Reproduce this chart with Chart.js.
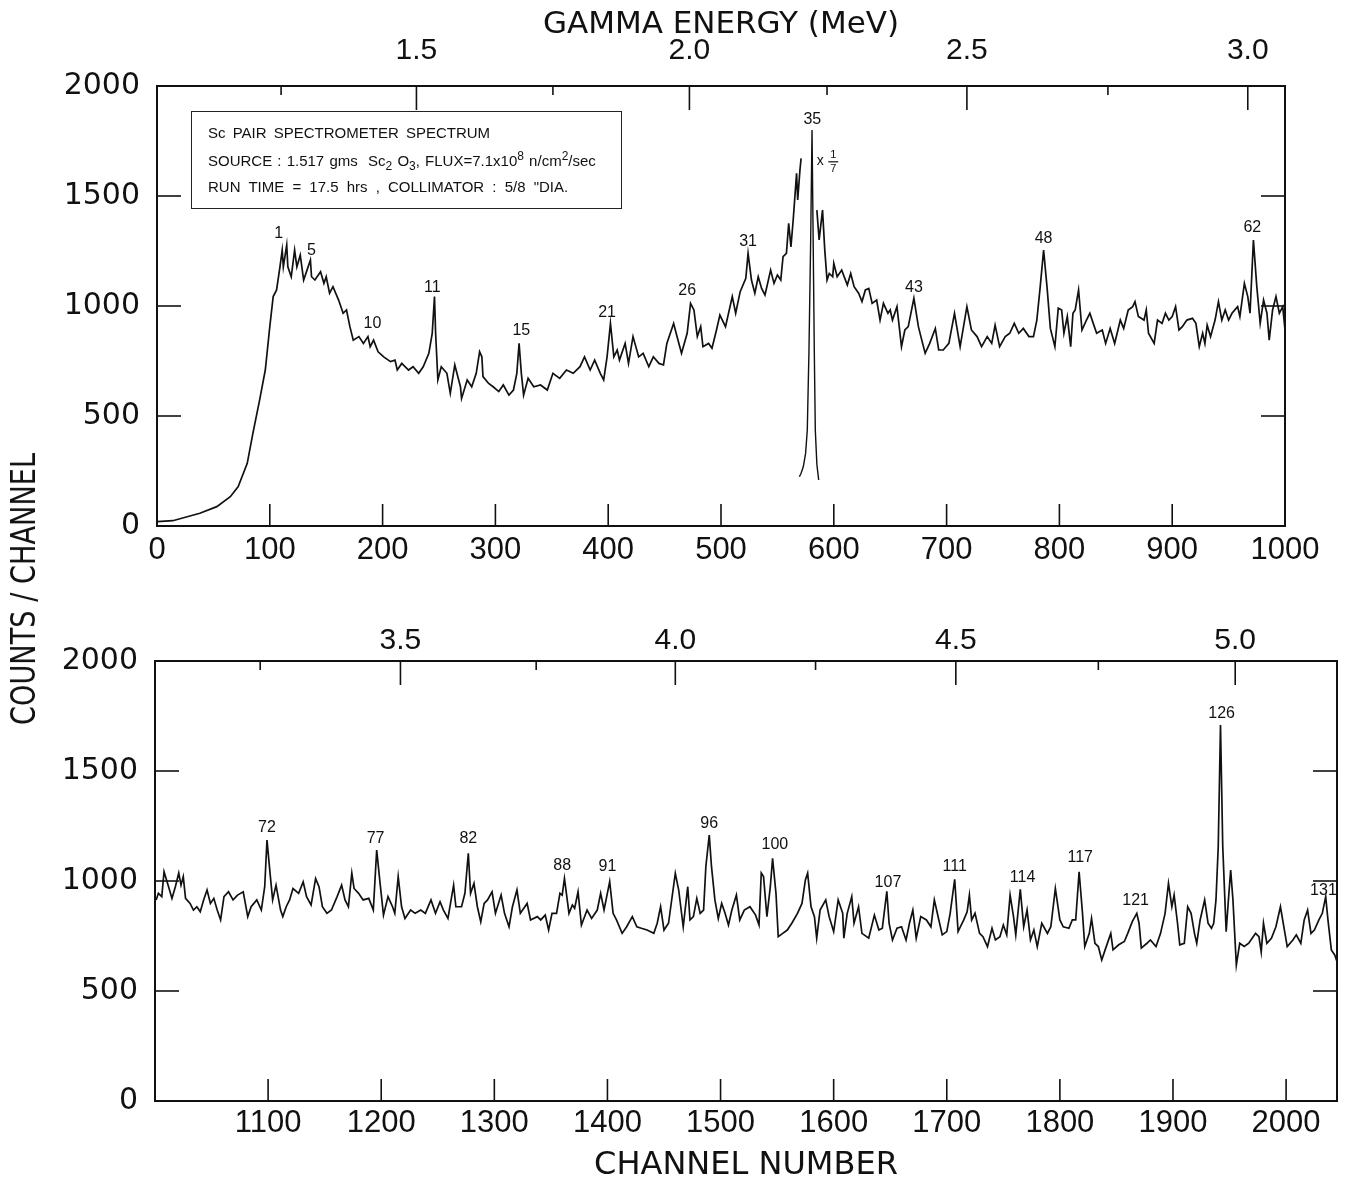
<!DOCTYPE html>
<html>
<head>
<meta charset="utf-8">
<script src="https://cdn.jsdelivr.net/npm/chart.js@4.4.1/dist/chart.umd.min.js"></script>
<style>
  body { margin: 0; background: #fff; }
  #wrap { position: relative; width: 1345px; height: 1183px; overflow: hidden; }
  #topChart { position: absolute; left: 0; top: 0; }
  #bottomChart { position: absolute; left: 0; top: 600px; }
  .ytitle { position: absolute; left: 23px; top: 589px; transform: translate(-50%, -50%) rotate(-90deg) scale(0.8, 1);
            font: 34px "DejaVu Sans"; color: #111; white-space: nowrap; }
  .info { position: absolute; left: 191px; top: 111px; width: 431px; height: 98px; box-sizing: border-box;
          border: 1.5px solid #222; font: 15px "Liberation Sans"; color: #111; }
  .info div { position: absolute; left: 16px; white-space: nowrap; line-height: 15px; word-spacing: 3px; }
  .info sub, .info sup { font-size: 12px; line-height: 0; }
</style>
</head>
<body>
<div id="wrap">
  <canvas id="topChart" width="1345" height="600"></canvas>
  <canvas id="bottomChart" width="1345" height="583"></canvas>
  <div class="ytitle">COUNTS / CHANNEL</div>
  <div class="info">
    <div style="top:13px">Sc PAIR SPECTROMETER SPECTRUM</div>
    <div style="top:41px; word-spacing: 1px">SOURCE : 1.517 gms&nbsp; Sc<sub>2</sub> O<sub>3</sub>, FLUX=7.1x10<sup>8</sup> n/cm<sup>2</sup>/sec</div>
    <div style="top:67px; word-spacing: 4px">RUN TIME = 17.5 hrs , COLLIMATOR : 5/8 "DIA.</div>
  </div>
</div>
<script>
// channel 0-1000, rising edge up to the point where the 2.22 MeV line breaks the trace
const topChannelsA = [0,14,38,53,65,72,80,85,91,96,100,103,106,109,111,112,115,116,119,122,
  124,127,130,133,136,137,140,145,148,150,153,156,161,165,168,171,174,179,183,187,
  189,192,196,201,207,211,213,217,223,227,232,236,241,244,246,247,249,252,257,260,
  264,269,270,275,279,283,286,288,289,294,298,303,307,312,316,319,321,323,325,329,
  334,340,346,351,357,363,369,375,379,384,388,393,396,399,402,405,408,410,415,418,
  422,427,431,436,440,445,449,452,458,461,465,470,473,476,479,482,484,489,492,496,
  499,504,510,513,517,522,524,527,530,533,536,539,544,547,550,553,555,558,560,562,
  564,567,568,570,571];
const topCountsA = [20,24,58,88,133,179,285,421,573,709,906,1043,1073,1178,1254,1178,1277,1178,1133,1254,
  1178,1231,1118,1163,1209,1133,1118,1156,1103,1133,1058,1088,1027,967,982,906,845,861,830,861,
  815,845,792,769,747,754,709,739,709,724,694,724,785,876,1043,876,664,724,694,603,
  732,633,580,664,633,694,792,769,679,648,633,611,641,595,618,694,830,694,595,671,
  633,641,618,694,671,709,694,724,769,709,754,694,664,769,921,769,800,754,830,739,
  861,769,785,724,769,739,732,830,921,861,785,876,1012,982,861,906,815,830,808,891,
  959,906,1043,967,1065,1126,1239,1118,1058,1133,1080,1050,1163,1103,1141,1118,1224,1239,1376,1269,
  1391,1603,1482,1618,1671];

// trace resumes after the peak
const topChannelsB = [585,587,590,592,594,596,599,600,603,607,612,615,618,622,625,628,631,634,638,641,
  644,648,650,652,656,658,660,663,666,671,675,678,681,685,690,693,697,702,707,712,
  718,722,727,731,736,740,743,747,752,756,760,764,768,773,777,780,783,786,789,792,
  796,799,802,804,807,810,812,814,817,820,824,827,830,833,838,841,845,849,854,857,
  861,865,867,870,875,877,879,884,887,891,894,897,900,903,906,909,913,918,921,924,
  927,929,931,934,938,941,944,947,950,953,958,960,964,967,969,972,975,978,981,984,
  986,989,992,995,998,1000];
const topCountsB = [1436,1300,1436,1254,1118,1148,1133,1194,1133,1163,1095,1148,1088,1058,1020,1073,1080,1012,1027,936,
  1012,967,982,936,997,906,815,891,906,1035,906,845,785,830,898,800,800,830,967,815,
  997,891,861,815,861,830,913,815,861,876,921,876,898,861,861,936,1088,1254,1088,898,
  815,990,982,876,952,815,967,982,1073,891,936,967,921,876,891,830,898,830,936,898,
  982,997,1020,952,936,982,876,830,936,921,967,936,952,997,891,906,936,944,921,815,
  876,830,913,861,936,1020,936,982,936,967,997,952,1103,1043,967,1300,1088,921,1027,967,
  845,982,1043,967,997,891];

// peak 35 drawn at one seventh
const peak35Channels = [569.5,571,573,575,576.5,578,579.5,580.7,581.7,582.7,583.6,585,586.6];
const peak35Counts = [224,240,270,330,436,800,1300,1800,1300,800,436,280,209];

// channel 1000-2045
const bottomChannels = [1001,1003,1006,1008,1012,1015,1018,1021,1023,1025,
  1027,1031,1034,1037,1040,1043,1046,1049,1052,1055,1058,1061,1065,1069,1073,1078,1082,1085,1090,1094,
  1097,1099,1102,1104,1107,1111,1113,1116,1119,1122,1127,1131,1134,1138,1142,1145,1148,1152,1156,1161,
  1165,1168,1171,1174,1176,1180,1184,1189,1193,1196,1199,1202,1206,1210,1212,1215,1218,1221,1226,1230,
  1235,1239,1244,1248,1252,1255,1259,1264,1266,1271,1274,1277,1279,1282,1285,1288,1291,1294,1298,1301,
  1306,1309,1313,1316,1320,1323,1329,1332,1338,1341,1345,1348,1351,1355,1358,1360,1362,1366,1369,1371,
  1374,1377,1382,1386,1391,1394,1397,1402,1405,1408,1413,1417,1422,1426,1430,1435,1441,1444,1447,1450,
  1454,1460,1463,1467,1470,1471,1473,1476,1479,1482,1485,1487,1490,1492,1495,1498,1501,1504,1507,1510,
  1514,1517,1521,1526,1531,1534,1536,1538,1541,1544,1546,1549,1551,1555,1559,1563,1568,1572,1575,1577,
  1580,1583,1585,1588,1593,1596,1600,1604,1608,1609,1612,1616,1618,1622,1625,1631,1636,1640,1643,1647,
  1649,1652,1656,1660,1664,1667,1670,1673,1677,1682,1686,1689,1693,1696,1700,1703,1707,1710,1715,1718,
  1720,1722,1725,1729,1732,1736,1740,1743,1747,1750,1753,1756,1759,1761,1765,1768,1771,1774,1777,1780,
  1784,1789,1792,1796,1800,1803,1808,1811,1814,1817,1820,1822,1826,1828,1831,1834,1837,1840,1845,1847,
  1852,1857,1860,1864,1868,1870,1872,1877,1880,1885,1889,1893,1896,1899,1901,1904,1906,1910,1913,1916,
  1919,1921,1924,1928,1931,1934,1936,1938,1940,1942,1944,1947,1949,1951,1953,1956,1959,1963,1967,1970,
  1973,1976,1978,1980,1983,1987,1991,1995,1999,2001,2006,2009,2013,2016,2019,2022,2025,2029,2032,2035,
  2037,2040,2043,2045];
const bottomCounts = [914,944,929,1042,974,921,974,1036,981,1020,
  921,898,868,883,860,914,959,898,921,868,823,929,951,914,936,951,838,883,914,868,
  974,1186,1020,914,981,868,838,883,914,966,944,996,929,891,1011,974,883,853,868,929,
  981,914,883,1036,966,944,914,921,868,1141,989,845,929,883,853,1020,883,830,868,853,
  868,853,914,853,906,868,830,981,883,883,944,1126,944,989,883,815,898,914,951,853,
  936,853,792,883,959,853,898,823,838,823,845,777,853,853,944,936,1012,853,891,876,
  951,800,868,830,868,944,868,997,853,823,762,792,838,792,785,777,762,808,883,777,
  808,1035,959,792,929,974,823,838,921,853,868,1065,1209,1065,914,830,898,853,800,868,
  936,823,868,883,845,800,1036,1020,838,974,1103,944,747,762,777,808,853,898,1005,1036,
  883,838,740,868,914,838,770,914,853,740,853,929,808,883,762,740,845,777,785,953,
  808,732,785,792,732,808,868,740,838,823,792,914,823,755,770,853,1008,770,823,860,
  936,823,853,762,747,702,785,732,747,800,755,936,838,755,962,792,868,732,777,702,
  808,762,792,966,823,792,785,823,823,1042,853,702,762,830,717,702,641,687,762,687,
  710,725,762,815,853,808,695,717,732,702,762,853,989,883,936,808,710,717,883,853,
  762,717,823,914,808,785,808,914,1156,1709,1156,770,914,1050,914,618,717,702,717,740,
  762,747,677,808,717,740,792,883,762,702,732,755,717,823,868,762,777,823,853,929,
  823,687,664,634];

// axes
const topChannelTicks = [0,100,200,300,400,500,600,700,800,900,1000];
const bottomChannelTicks = [1100,1200,1300,1400,1500,1600,1700,1800,1900,2000];
const countTicks = [0,500,1000,1500,2000];
const topEnergyValues = [1.25,1.5,1.75,2.0,2.25,2.5,2.75,3.0];
const topEnergyChannels = [110,230,351,472,594,718,843,967];
const bottomEnergyValues = [3.25,3.5,3.75,4.0,4.25,4.5,4.75,5.0];
const bottomEnergyChannels = [1093,1217,1337,1460,1584,1708,1834,1955];

// peak numbers
const topPeakNames = ['1','5','10','11','15','21','26','31','35','43','48','62'];
const topPeakChannels = [108,137,191,244,323,399,470,524,581,671,786,971];
const topPeakCounts = [1330,1254,918,1085,886,970,1070,1292,1848,1085,1308,1357];
const bottomPeakNames = ['72','77','82','88','91','96','100','107','111','114','117','121','126','131'];
const bottomPeakChannels = [1099,1195,1277,1360,1400,1490,1548,1648,1707,1767,1818,1867,1943,2033];
const bottomPeakCounts = [1244,1194,1194,1068,1065,1259,1164,994,1065,1015,1106,911,1759,956];

const INK = '#111';
const pts = (xs, ys) => xs.map((x, i) => ({x: x, y: ys[i]}));

const frameTicks = {
  id: 'frameTicks',
  afterDatasetsDraw(chart) {
    const {ctx, chartArea: a, scales} = chart;
    const seg = (x1, y1, x2, y2) => { ctx.beginPath(); ctx.moveTo(x1, y1); ctx.lineTo(x2, y2); ctx.stroke(); };
    ctx.save();
    ctx.strokeStyle = INK;
    ctx.lineWidth = 2;
    ctx.strokeRect(a.left, a.top, a.right - a.left, a.bottom - a.top);
    ctx.lineWidth = 1.6;
    scales.x.ticks.forEach(t => {
      const p = scales.x.getPixelForValue(t.value);
      if (p > a.left + 2 && p < a.right - 2) seg(p, a.bottom, p, a.bottom - 22);
    });
    scales.y.ticks.forEach(t => {
      const p = scales.y.getPixelForValue(t.value);
      if (p > a.top + 2 && p < a.bottom - 2) {
        seg(a.left, p, a.left + 24, p);
        seg(a.right, p, a.right - 24, p);
      }
    });
    scales.x2.ticks.forEach(t => {
      const p = scales.x2.getPixelForValue(t.value);
      seg(p, a.top, p, a.top + (t.label ? 24 : 9));
    });
    ctx.restore();
  }
};

const peakLabels = {
  id: 'peakLabels',
  afterDatasetsDraw(chart, args, opts) {
    const {ctx, scales: {x, y}} = chart;
    ctx.save();
    ctx.fillStyle = INK;
    ctx.textAlign = 'center';
    ctx.textBaseline = 'middle';
    ctx.font = '16px "Liberation Sans"';
    opts.names.forEach((n, i) => {
      ctx.fillText(n, x.getPixelForValue(opts.channels[i]), y.getPixelForValue(opts.counts[i]));
    });
    if (opts.scaleNote) {
      const px = x.getPixelForValue(opts.scaleNote.channel);
      const py = y.getPixelForValue(opts.scaleNote.count);
      ctx.font = '14px "Liberation Sans"';
      ctx.fillText('x', px, py);
      ctx.font = '11px "Liberation Sans"';
      ctx.fillText('1', px + 13, py - 6);
      ctx.fillText('7', px + 13, py + 8);
      ctx.lineWidth = 1.2;
      ctx.strokeStyle = INK;
      ctx.beginPath(); ctx.moveTo(px + 8, py + 1); ctx.lineTo(px + 18, py + 1); ctx.stroke();
    }
    ctx.restore();
  }
};

function makeScales(o) {
  const tickFont = {family: 'Liberation Sans', size: 31};
  return {
    x: {
      type: 'linear', position: 'bottom', min: o.min, max: o.max,
      grid: {display: false}, border: {display: false},
      afterBuildTicks: s => { s.ticks = o.channelTicks.map(v => ({value: v})); },
      afterFit: s => { s.height = o.bottomH; },
      ticks: {autoSkip: false, maxRotation: 0, padding: o.xPad, color: INK, font: tickFont,
              callback: v => String(v)},
      title: o.xTitle ? {display: true, text: o.xTitle, color: INK, padding: {top: 0, bottom: -2},
                         font: {family: 'DejaVu Sans', size: 32}} : {display: false}
    },
    x2: {
      type: 'linear', position: 'top', min: o.min, max: o.max,
      grid: {display: false}, border: {display: false},
      afterBuildTicks: s => { s.ticks = o.energyChannels.map(v => ({value: v})); },
      afterFit: s => { s.height = o.topH; },
      ticks: {autoSkip: false, maxRotation: 0, padding: o.ePad, color: INK,
              font: {family: 'Liberation Sans', size: 30},
              callback: (v, i) => Number.isInteger(o.energyValues[i] * 2) ? o.energyValues[i].toFixed(1) : ''},
      title: o.eTitle ? {display: true, text: o.eTitle, color: INK, padding: {top: 6, bottom: 0},
                         font: {family: 'DejaVu Sans', size: 31}} : {display: false}
    },
    y: {
      min: 0, max: 2000,
      grid: {display: false}, border: {display: false},
      afterBuildTicks: s => { s.ticks = countTicks.map(v => ({value: v})); },
      afterFit: s => { s.width = o.leftW; },
      ticks: {padding: 9, color: INK, font: {family: 'DejaVu Sans', size: 30}, callback: v => String(v)}
    },
    y2: {
      position: 'right', min: 0, max: 2000,
      grid: {display: false}, border: {display: false},
      ticks: {display: false},
      afterFit: s => { s.width = o.rightW; }
    }
  };
}

const common = {
  responsive: false,
  animation: false,
  layout: {padding: 0},
  elements: {point: {radius: 0}, line: {borderColor: INK, borderWidth: 1.7, tension: 0}},
};

new Chart(document.getElementById('topChart'), {
  type: 'line',
  data: {
    datasets: [
      {data: pts(topChannelsA, topCountsA)},
      {data: pts(topChannelsB, topCountsB)},
      {data: pts(peak35Channels, peak35Counts), borderWidth: 1.4}
    ]
  },
  options: Object.assign({}, common, {
    plugins: {
      legend: {display: false}, tooltip: {enabled: false},
      peakLabels: {names: topPeakNames, channels: topPeakChannels, counts: topPeakCounts,
                   scaleNote: {channel: 588, count: 1660}}
    },
    scales: makeScales({min: 0, max: 1000, channelTicks: topChannelTicks,
      energyChannels: topEnergyChannels, energyValues: topEnergyValues,
      topH: 86, bottomH: 74, leftW: 157, rightW: 60, xPad: -2, ePad: 9,
      eTitle: 'GAMMA ENERGY (MeV)'})
  }),
  plugins: [frameTicks, peakLabels]
});

new Chart(document.getElementById('bottomChart'), {
  type: 'line',
  data: {datasets: [{data: pts(bottomChannels, bottomCounts)}]},
  options: Object.assign({}, common, {
    plugins: {
      legend: {display: false}, tooltip: {enabled: false},
      peakLabels: {names: bottomPeakNames, channels: bottomPeakChannels, counts: bottomPeakCounts}
    },
    scales: makeScales({min: 1000, max: 2045, channelTicks: bottomChannelTicks,
      energyChannels: bottomEnergyChannels, energyValues: bottomEnergyValues,
      topH: 61, bottomH: 82, leftW: 155, rightW: 8, xPad: -4, ePad: -6,
      xTitle: 'CHANNEL NUMBER'})
  }),
  plugins: [frameTicks, peakLabels]
});
</script>
</body>
</html>
